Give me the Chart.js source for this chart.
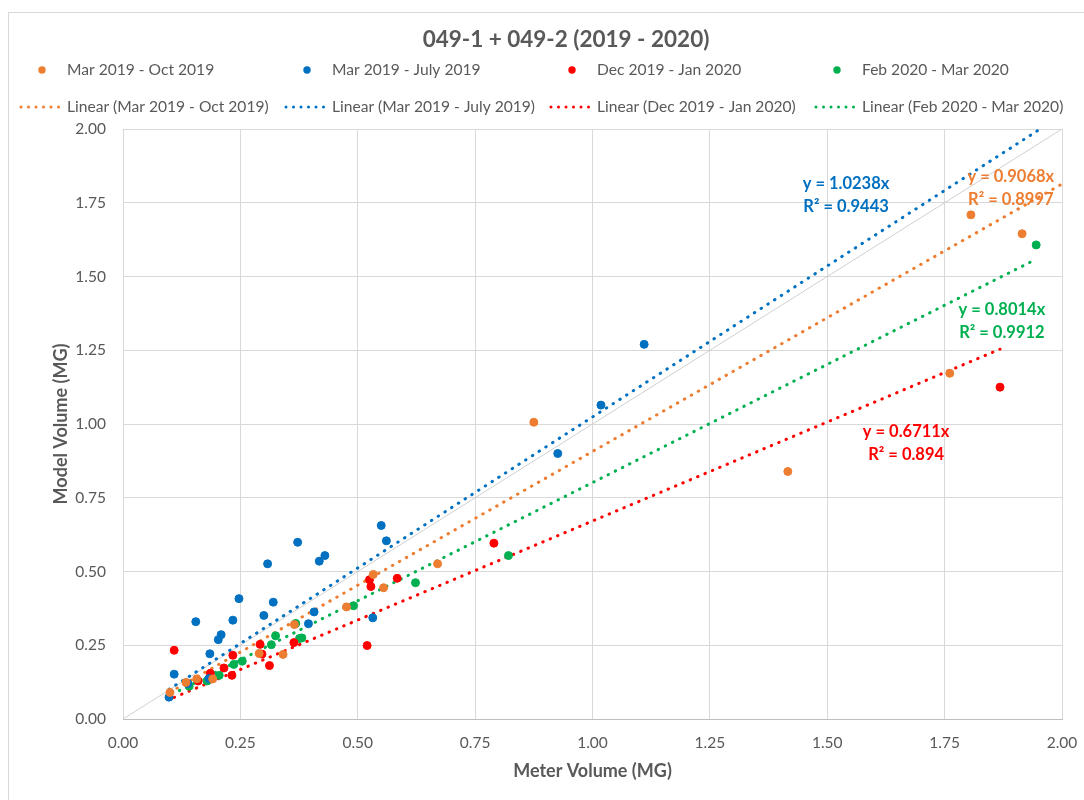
<!DOCTYPE html>
<html>
<head>
<meta charset="utf-8">
<script src="https://cdn.jsdelivr.net/npm/chart.js@4.4.0/dist/chart.umd.min.js"></script>
<style>
  html, body { margin: 0; padding: 0; background: #fff; overflow: hidden; }
  #wrap { position: relative; width: 1084px; height: 800px; }
  #frame { position: absolute; left: 8px; top: 12px; width: 1100px; height: 820px; border: 1px solid #d9d9d9; pointer-events: none; }
</style>
</head>
<body>
<div id="wrap">
  <canvas id="chart" width="1084" height="800"></canvas>
  <div id="frame"></div>
</div>
<script>
// Series
const chartTitle = "049-1 + 049-2 (2019 - 2020)";
const seriesNames = ["Mar 2019 - Oct 2019", "Mar 2019 - July 2019", "Dec 2019 - Jan 2020", "Feb 2020 - Mar 2020"];
const seriesColors = ["#ED7D31", "#0070C0", "#FF0000", "#00B050"];

const orangeX = [1.806, 1.915, 1.761, 1.416, 0.875, 0.670, 0.533, 0.555, 0.476, 0.341, 0.290, 0.365, 0.191, 0.157, 0.134, 0.100];
const orangeY = [1.709, 1.645, 1.172, 0.839, 1.006, 0.526, 0.490, 0.445, 0.380, 0.219, 0.222, 0.320, 0.136, 0.136, 0.124, 0.090];

const blueX = [1.110, 0.926, 1.018, 0.550, 0.561, 0.372, 0.418, 0.430, 0.407, 0.395, 0.532, 0.308, 0.247, 0.320, 0.155, 0.234, 0.300, 0.209, 0.203, 0.185, 0.109, 0.183, 0.138, 0.098];
const blueY = [1.270, 0.900, 1.064, 0.656, 0.604, 0.599, 0.535, 0.554, 0.363, 0.323, 0.343, 0.526, 0.408, 0.396, 0.330, 0.335, 0.351, 0.286, 0.269, 0.221, 0.152, 0.137, 0.120, 0.074];

const redX = [1.868, 0.790, 0.584, 0.525, 0.528, 0.520, 0.109, 0.234, 0.292, 0.296, 0.312, 0.364, 0.215, 0.232, 0.186, 0.160];
const redY = [1.125, 0.596, 0.477, 0.472, 0.449, 0.249, 0.233, 0.216, 0.253, 0.220, 0.181, 0.259, 0.173, 0.148, 0.155, 0.129];

const greenX = [1.945, 0.821, 0.623, 0.491, 0.381, 0.316, 0.376, 0.368, 0.325, 0.236, 0.254, 0.205, 0.179, 0.141];
const greenY = [1.607, 0.554, 0.462, 0.384, 0.275, 0.252, 0.273, 0.324, 0.282, 0.185, 0.196, 0.148, 0.129, 0.111];

// Linear trend lines (through origin), as printed on the chart
const trendSlopes = [0.9068, 1.0238, 0.6711, 0.8014];
const trendR2 = ["0.8997", "0.9443", "0.894", "0.9912"];
const trendFrom = [0.100, 0.098, 0.109, 0.120];
const trendTo = [2.000, 1.953, 1.868, 1.945];
// where each equation label sits (data units, centre of the two lines)
const labelX = [1.891, 1.540, 1.668, 1.872];
const labelY = [1.798, 1.776, 0.936, 1.347];

// y = x reference line
const diagX = [0, 2];
const diagY = [0, 2];

const tickValues = [0, 0.25, 0.5, 0.75, 1, 1.25, 1.5, 1.75, 2];

const TEXT = "#595959";
const FONT = 'Lato, "Liberation Sans", sans-serif';

function toPoints(xs, ys) {
    return xs.map((x, i) => ({ x: x, y: ys[i] }));
}

const pointSets = [[orangeX, orangeY], [blueX, blueY], [redX, redY], [greenX, greenY]];

const datasets = [];
pointSets.forEach((s, i) => {
    datasets.push({
        label: seriesNames[i],
        data: toPoints(s[0], s[1]),
        backgroundColor: seriesColors[i],
        borderColor: seriesColors[i],
        borderWidth: 1,
        pointRadius: 4,
        order: 1
    });
});
trendSlopes.forEach((m, i) => {
    datasets.push({
        label: "Linear (" + seriesNames[i] + ")",
        data: [{ x: trendFrom[i], y: m * trendFrom[i] }, { x: trendTo[i], y: m * trendTo[i] }],
        showLine: true,
        borderColor: seriesColors[i],
        borderWidth: 3,
        borderDash: [0.5, 7.5],
        borderCapStyle: "round",
        pointRadius: 0,
        fill: false,
        order: 2
    });
});
datasets.push({
    label: "y = x",
    data: toPoints(diagX, diagY),
    showLine: true,
    borderColor: "#d0d0d0",
    borderWidth: 1,
    pointRadius: 0,
    order: 3
});

// Title and Excel style legend: two rows, four fixed columns
const headerPlugin = {
    id: "headerPlugin",
    afterDraw(chart) {
        const ctx = chart.ctx;
        ctx.save();
        ctx.textBaseline = "middle";
        ctx.textAlign = "center";
        ctx.fillStyle = TEXT;
        ctx.font = "bold 22.5px " + FONT;
        ctx.fillText(chartTitle, 566, 40);

        ctx.textAlign = "left";
        ctx.font = "15.6px " + FONT;
        for (let i = 0; i < 4; i++) {
            const tx = 67 + 265 * i;
            // row 1: markers
            ctx.fillStyle = seriesColors[i];
            ctx.beginPath();
            ctx.arc(tx - 25, 70, 3.7, 0, Math.PI * 2);
            ctx.fill();
            ctx.fillStyle = TEXT;
            ctx.fillText(chart.data.datasets[i].label, tx, 70);
            // row 2: dotted trend sample
            ctx.fillStyle = seriesColors[i];
            for (let k = 0; k < 6; k++) {
                ctx.beginPath();
                ctx.arc(tx - 46 + k * 7.5, 107, 1.5, 0, Math.PI * 2);
                ctx.fill();
            }
            ctx.fillStyle = TEXT;
            ctx.fillText(chart.data.datasets[4 + i].label, tx, 107);
        }
        ctx.restore();
    }
};

// trend equation labels
const trendLabels = {
    id: "trendLabels",
    afterDatasetsDraw(chart) {
        const ctx = chart.ctx;
        const xs = chart.scales.x, ys = chart.scales.y;
        ctx.save();
        ctx.font = "bold 16.5px " + FONT;
        ctx.textAlign = "center";
        ctx.textBaseline = "middle";
        trendSlopes.forEach((m, i) => {
            const cx = xs.getPixelForValue(labelX[i]);
            const cy = ys.getPixelForValue(labelY[i]);
            ctx.fillStyle = seriesColors[i];
            ctx.fillText("y = " + m.toFixed(4) + "x", cx, cy - 11.5);
            ctx.fillText("R\u00B2 = " + trendR2[i], cx, cy + 11.5);
        });
        ctx.restore();
    }
};

const chart = new Chart(document.getElementById("chart").getContext("2d"), {
    type: "scatter",
    data: { datasets: datasets },
    plugins: [headerPlugin, trendLabels],
    options: {
        responsive: false,
        animation: false,
        layout: { autoPadding: false, padding: { left: 0, right: 22, top: 129, bottom: 0 } },
        plugins: {
            legend: { display: false },
            tooltip: { enabled: false },
            title: { display: false }
        },
        scales: {
            x: {
                type: "linear",
                min: 0,
                max: 2,
                afterBuildTicks: (s) => { s.ticks = tickValues.map(v => ({ value: v })); },
                afterFit: (s) => { s.height = 81; s.paddingLeft = 0; s.paddingRight = 0; },
                ticks: {
                    color: TEXT,
                    font: { family: FONT, size: 15.5 },
                    padding: 15,
                    autoSkip: false,
                    maxRotation: 0,
                    callback: (v) => Number(v).toFixed(2)
                },
                grid: { color: "#d9d9d9", drawTicks: false },
                border: { color: "#bfbfbf" },
                title: {
                    display: true,
                    text: "Meter Volume (MG)",
                    color: TEXT,
                    font: { family: FONT, size: 18, weight: "bold" },
                    padding: 18
                }
            },
            y: {
                type: "linear",
                min: 0,
                max: 2,
                afterBuildTicks: (s) => { s.ticks = tickValues.map(v => ({ value: v })); },
                afterFit: (s) => { s.width = 123; s.paddingTop = 0; s.paddingBottom = 0; },
                ticks: {
                    color: TEXT,
                    font: { family: FONT, size: 15.5 },
                    padding: 17,
                    autoSkip: false,
                    callback: (v) => Number(v).toFixed(2)
                },
                grid: { color: "#d9d9d9", drawTicks: false },
                border: { display: false },
                title: {
                    display: true,
                    text: "Model Volume (MG)",
                    color: TEXT,
                    font: { family: FONT, size: 18, weight: "bold" },
                    padding: 50
                }
            }
        }
    }
});
</script>
</body>
</html>
